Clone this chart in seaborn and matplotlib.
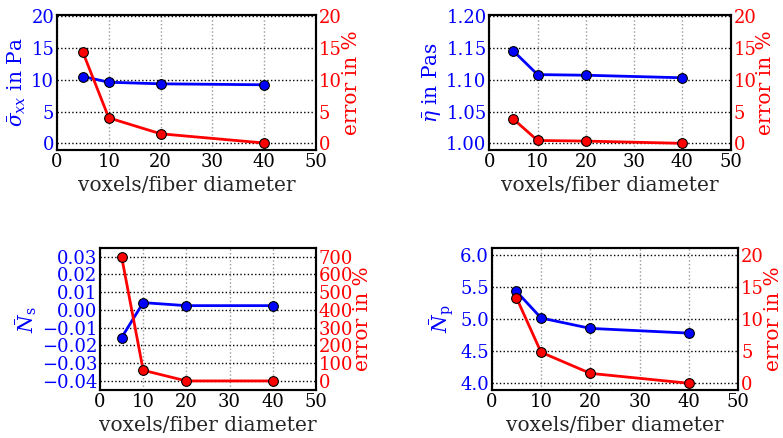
import matplotlib
matplotlib.use("Agg")
import matplotlib.pyplot as plt
import seaborn as sns

sns.set_style("white")
plt.rcParams["font.family"] = ["DejaVu Serif"]
plt.rcParams["mathtext.fontset"] = "dejavuserif"
plt.rcParams["font.size"] = 12

# resolution in voxels per fiber diameter
resolution = [5, 10, 20, 40]

# mean stress
stress = [10.5, 9.6, 9.35, 9.2]
stress_err = [14.3, 4.0, 1.5, 0.05]
# mean viscosity
viscosity = [1.145, 1.108, 1.107, 1.103]
viscosity_err = [3.8, 0.45, 0.35, 0.0]
# second normal stress coefficient
ns = [-0.0156, 0.0041, 0.0024, 0.0024]
ns_err = [700, 60, 0, 0]
# first normal stress coefficient
np_vals = [5.437, 5.021, 4.858, 4.784]
np_err = [13.4, 4.85, 1.55, 0.0]

xticks = [0, 10, 20, 30, 40, 50]

panels = [
    dict(rect=[0.0728, 0.6575, 0.3308, 0.3082], y=stress, e=stress_err,
         ylabel=r"$\bar{\sigma}_{xx}$ in Pa", ylim=(-1.05, 20.16), yticks=[0, 5, 10, 15, 20],
         yfmt="{:.0f}", elim=(-1.05, 20.16), eticks=[0, 5, 10, 15, 20]),
    dict(rect=[0.6249, 0.6575, 0.3083, 0.3082], y=viscosity, e=viscosity_err,
         ylabel=r"$\bar{\eta}$ in Pas", ylim=(0.9895, 1.2016),
         yticks=[1.00, 1.05, 1.10, 1.15, 1.20], yfmt="{:.2f}",
         elim=(-1.05, 20.16), eticks=[0, 5, 10, 15, 20]),
    dict(rect=[0.1277, 0.1096, 0.2759, 0.3235], y=ns, e=ns_err,
         ylabel=r"$\bar{N}_\mathrm{s}$", ylim=(-0.0451, 0.0347),
         yticks=[-0.04, -0.03, -0.02, -0.01, 0.00, 0.01, 0.02, 0.03], yfmt="{:.2f}",
         elim=(-51, 747), eticks=[0, 100, 200, 300, 400, 500, 600, 700]),
    dict(rect=[0.628, 0.1096, 0.3149, 0.3235], y=np_vals, e=np_err,
         ylabel=r"$\bar{N}_\mathrm{p}$", ylim=(3.895, 6.11),
         yticks=[4.0, 4.5, 5.0, 5.5, 6.0], yfmt="{:.1f}",
         elim=(-1.05, 21.1), eticks=[0, 5, 10, 15, 20]),
]

fig = plt.figure(figsize=(7.83, 4.38), dpi=100)

for p in panels:
    ax = fig.add_axes(p["rect"])
    sns.lineplot(x=resolution, y=p["y"], ax=ax, color="#0000ff", lw=2,
                 marker="o", markersize=7, markeredgecolor="black",
                 markeredgewidth=0.8, zorder=3)
    ax.set_xlim(0, 50)
    ax.set_xticks(xticks)
    ax.set_ylim(*p["ylim"])
    ax.set_yticks(p["yticks"])
    ax.set_yticklabels([p["yfmt"].format(v).replace("-", "\u2212") for v in p["yticks"]])
    ax.tick_params(axis="y", colors="#0000ff", labelsize=13, length=0, pad=2)
    ax.tick_params(axis="x", colors="black", labelsize=13, length=0, pad=2)
    ax.set_xlabel("voxels/fiber diameter", fontsize=14.5, labelpad=4)
    ax.set_ylabel(p["ylabel"], color="#0000ff", fontsize=14.5, labelpad=2)
    ax.grid(axis="x", color="0.6", linestyle=":", lw=1)
    ax.grid(axis="y", color="black", linestyle=":", lw=1)
    for s in ax.spines.values():
        s.set_color("black")
        s.set_linewidth(1.5)

    ax2 = ax.twinx()
    sns.lineplot(x=resolution, y=p["e"], ax=ax2, color="#ff0000", lw=2,
                 marker="o", markersize=7, markeredgecolor="black",
                 markeredgewidth=0.8, zorder=3)
    ax2.set_ylim(*p["elim"])
    ax2.set_yticks(p["eticks"])
    ax2.tick_params(axis="y", colors="#ff0000", labelsize=13, length=0, pad=2)
    ax2.set_ylabel("error in %", color="#ff0000", fontsize=14.5, labelpad=0)
    ax2.grid(False)
    for s in ax2.spines.values():
        s.set_color("black")
        s.set_linewidth(1.5)

fig.savefig("out.png", dpi=100)
